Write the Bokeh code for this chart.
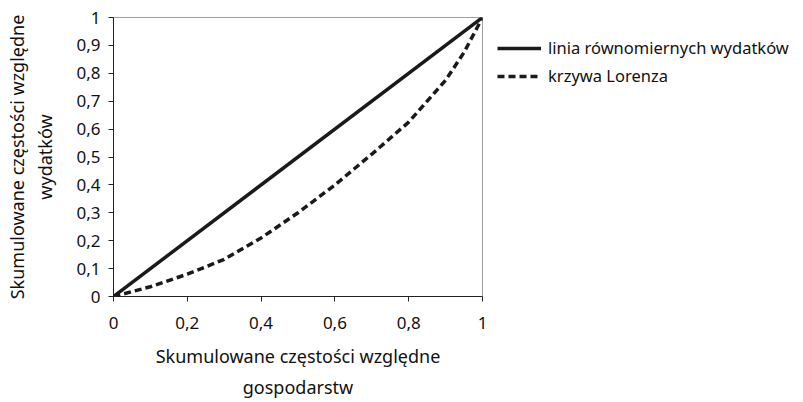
from bokeh.plotting import figure
from bokeh.models import FixedTicker, Legend, LegendItem, Range1d
from bokeh.embed import file_html
from bokeh.resources import INLINE

# data
x_equal = [0, 1]
y_equal = [0, 1]
x_lorenz = [0, 0.1, 0.2, 0.3, 0.4, 0.5, 0.6, 0.7, 0.8, 0.9, 0.95, 1]
y_lorenz = [0, 0.035, 0.08, 0.133, 0.21, 0.30, 0.40, 0.51, 0.625, 0.775, 0.875, 1]
x_ticks = [0, 0.2, 0.4, 0.6, 0.8, 1]
x_tick_labels = ["0", "0,2", "0,4", "0,6", "0,8", "1"]
y_ticks = [0, 0.1, 0.2, 0.3, 0.4, 0.5, 0.6, 0.7, 0.8, 0.9, 1]
y_tick_labels = ["0", "0,1", "0,2", "0,3", "0,4", "0,5", "0,6", "0,7", "0,8", "0,9", "1"]
labels = ["linia równomiernych wydatków", "krzywa Lorenza"]

FONT = "Noto Sans"

p = figure(width=787, height=386, output_backend="svg", toolbar_location=None,
           x_range=Range1d(0, 1), y_range=Range1d(0, 1),
           min_border_left=113, min_border_top=17, min_border_right=300, min_border_bottom=85,
           frame_width=369, frame_height=279)
p.grid.visible = False
p.outline_line_color = "#a0a0a0"
p.outline_line_width = 1

r1 = p.line(x_equal, y_equal, line_color="#1a1a1a", line_width=3.5)
r2 = p.line(x_lorenz, y_lorenz, line_color="#1a1a1a", line_width=3.5, line_dash="7 4")

for ax in (p.xaxis[0], p.yaxis[0]):
    ax.axis_line_color = "#222222"
    ax.major_tick_line_color = "#222222"
    ax.minor_tick_line_color = None
    ax.major_tick_in = 0
    ax.major_tick_out = 5
    ax.major_label_text_font = FONT
    ax.major_label_text_font_size = "17px"
    ax.major_label_text_color = "#111111"
    ax.axis_label_text_font = FONT
    ax.axis_label_text_font_size = "18px"
    ax.axis_label_text_font_style = "normal"
    ax.axis_label_text_color = "#111111"

p.xaxis.ticker = FixedTicker(ticks=x_ticks)
p.xaxis.major_label_overrides = {t: l for t, l in zip(x_ticks, x_tick_labels)}
p.xaxis.major_label_standoff = 15
p.xaxis.axis_label = "Skumulowane częstości względne\ngospodarstw"
p.xaxis.axis_label_standoff = 12
p.xaxis.axis_label_text_line_height = 1.3

p.yaxis.ticker = FixedTicker(ticks=y_ticks)
p.yaxis.major_label_overrides = {t: l for t, l in zip(y_ticks, y_tick_labels)}
p.yaxis.major_label_standoff = 8
p.yaxis.axis_label = "Skumulowane częstości względne\nwydatków"
p.yaxis.axis_label_standoff = 16
p.yaxis.axis_label_text_line_height = 1.2

legend = Legend(items=[LegendItem(label=labels[0], renderers=[r1]),
                       LegendItem(label=labels[1], renderers=[r2])],
                location=(15, 209))
legend.border_line_color = None
legend.background_fill_alpha = 0
legend.margin = 0
legend.padding = 0
legend.glyph_width = 44
legend.glyph_height = 20
legend.label_height = 20
legend.spacing = 5
legend.label_standoff = 7
legend.label_text_font = FONT
legend.label_text_font_size = "16.5px"
legend.label_text_color = "#111111"
p.add_layout(legend, "right")

open("out.html", "w").write(file_html(p, INLINE))
